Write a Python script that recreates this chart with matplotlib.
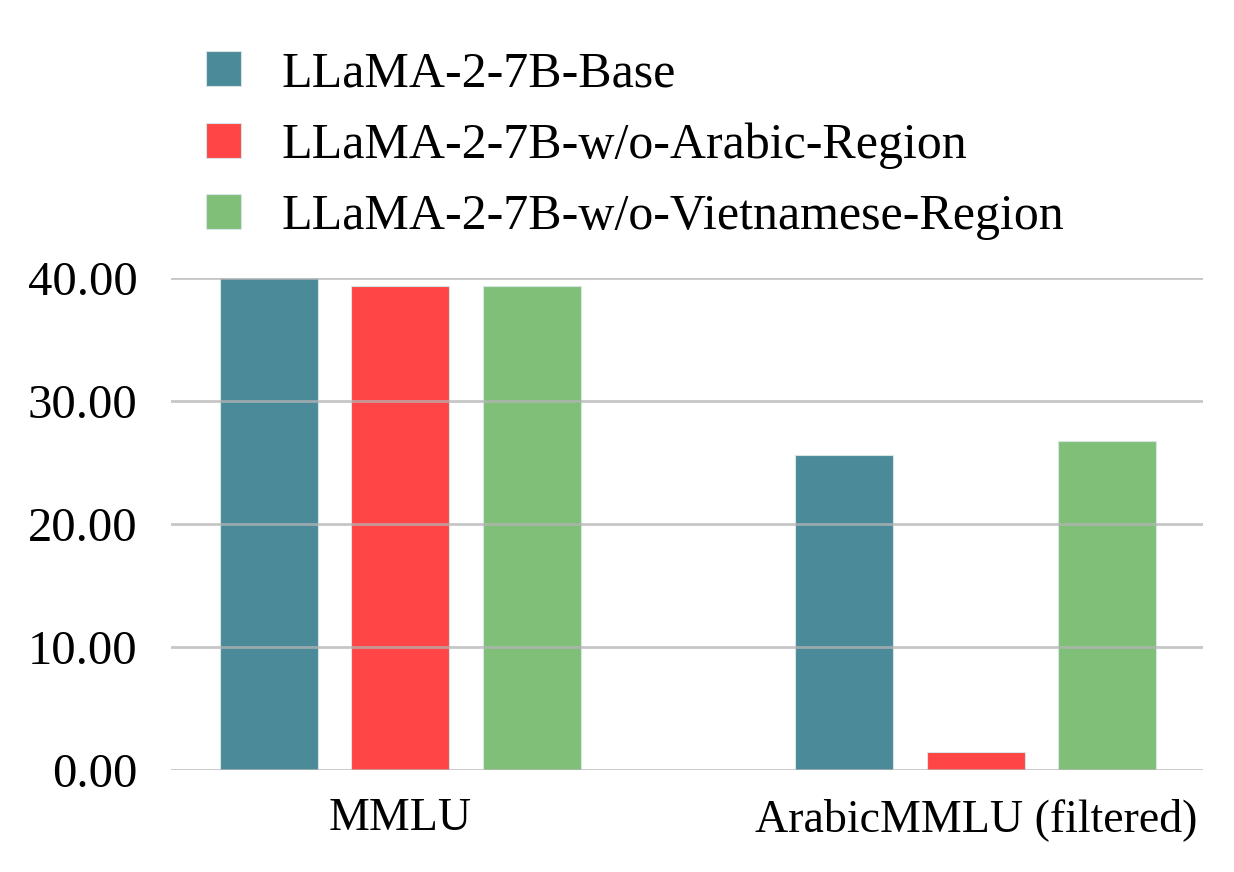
import matplotlib.pyplot as plt
import numpy as np

plt.rcParams['font.family'] = ['Liberation Serif', 'DejaVu Serif']

# data
benchmarks = ['MMLU', 'ArabicMMLU (filtered)']
models = ['LLaMA-2-7B-Base', 'LLaMA-2-7B-w/o-Arabic-Region', 'LLaMA-2-7B-w/o-Vietnamese-Region']
base_scores = [40.0, 25.6]
no_arabic_scores = [39.35, 1.45]
no_vietnamese_scores = [39.35, 26.75]
colors = ['#4b8a99', '#ff4545', '#80bf78']

fig = plt.figure(figsize=(12.34, 8.72), dpi=100)
ax = fig.add_axes([0.1386, 0.117, 0.8364, 0.564])

x = np.arange(len(benchmarks))
offset = 0.2285
width = 0.17
series = [base_scores, no_arabic_scores, no_vietnamese_scores]
for i, (vals, name, c) in enumerate(zip(series, models, colors)):
    ax.bar(x + (i - 1) * offset, vals, width, color=c, label=name,
           edgecolor='#d8e4e6', linewidth=0.8, zorder=2)

ax.set_xlim(-0.398, 1.395)
ax.set_ylim(0, 40)
ax.set_yticks([0, 10, 20, 30, 40])
ax.set_yticklabels([f'{v:.2f}' for v in [0, 10, 20, 30, 40]])
ax.set_xticks(x)
ax.set_xticklabels(benchmarks)
ax.tick_params(axis='both', length=0)
ax.tick_params(axis='y', labelsize=35, pad=24)
ax.tick_params(axis='x', labelsize=33, pad=20)
ax.yaxis.grid(True, color='#b4b4b4', linewidth=2, alpha=0.75, zorder=3)
ax.set_axisbelow(False)
for s in ax.spines.values():
    s.set_visible(False)

fig.legend(loc='upper left', bbox_to_anchor=(0.1505, 0.965), frameon=False,
           fontsize=36, handlelength=0.7, handleheight=0.7, handletextpad=0.82,
           labelspacing=0.5, borderaxespad=0)

fig.savefig('out.png', dpi=100)
